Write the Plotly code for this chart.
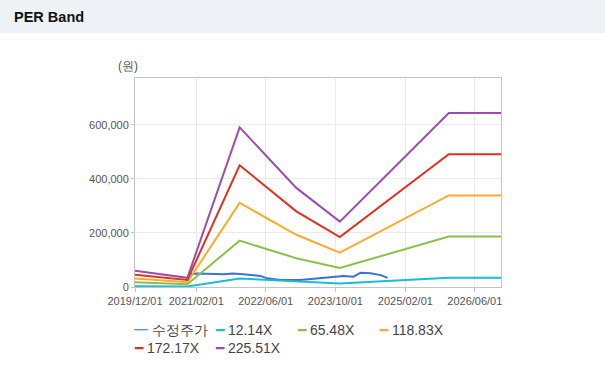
import plotly.graph_objects as go

# ---- data ----
band_dates = ["2019-12-01", "2020-06-01", "2020-12-01", "2021-12-01",
              "2023-01-01", "2023-11-01", "2025-12-01", "2026-12-01"]
per_12_14 = [3200, 2600, 1800, 31800, 19800, 13000, 34700, 34700]
per_65_48 = [17400, 13900, 9900, 171600, 106600, 70300, 187000, 187000]
per_118_83 = [31600, 25300, 17900, 311400, 193400, 127500, 339300, 339300]
per_172_17 = [45800, 36600, 26000, 451000, 280000, 184800, 491700, 491700]
per_225_51 = [60000, 48000, 34000, 591000, 367000, 242000, 644000, 644000]

price_dates = ["2020-12-15", "2021-02-08", "2021-08-08", "2021-10-17", "2021-12-26",
               "2022-04-24", "2022-06-12", "2022-09-11", "2023-01-29", "2023-05-29",
               "2023-09-18", "2023-11-27", "2024-02-05", "2024-03-25", "2024-06-03",
               "2024-08-12", "2024-09-30"]
price = [48000, 50000, 47000, 50000, 47000, 41000, 32000, 26000, 26000, 32000,
         38000, 41000, 38000, 53000, 51000, 44000, 34000]

series_names = ["수정주가", "12.14X", "65.48X", "118.83X", "172.17X", "225.51X"]
colors = ["#3a72d6", "#1bbdd4", "#8cc04a", "#fbab2e", "#e2301f", "#9b4ea9"]

x_ticks = ["2019-12-01", "2021-02-01", "2022-06-01", "2023-10-01", "2025-02-01", "2026-06-01"]
y_ticks = [0, 200000, 400000, 600000]

fig = go.Figure()
fig.add_trace(go.Scatter(x=price_dates, y=price, name=series_names[0], mode="lines",
                         line=dict(color=colors[0], width=2)))
for name, vals, col in zip(series_names[1:],
                           [per_12_14, per_65_48, per_118_83, per_172_17, per_225_51],
                           colors[1:]):
    fig.add_trace(go.Scatter(x=band_dates, y=vals, name=name, mode="lines",
                             line=dict(color=col, width=2)))

fig.update_layout(
    width=605, height=379,
    margin=dict(l=135, r=104, t=78, b=92),
    paper_bgcolor="white", plot_bgcolor="white",
    showlegend=False,
    font=dict(family="Liberation Sans, Arial, sans-serif", color="#555555", size=11),
)
fig.update_xaxes(
    type="date", range=["2019-12-01", "2026-12-01"],
    tickvals=x_ticks, tickformat="%Y/%m/%d",
    showgrid=True, gridcolor="#ebebeb", gridwidth=1,
    showline=True, linecolor="#c4c4c4", linewidth=1, mirror=True,
    ticks="outside", ticklen=4, tickcolor="#c4c4c4",
    tickfont=dict(size=11, color="#555555"), zeroline=False,
)
fig.update_yaxes(
    range=[0, 774000], tickvals=y_ticks, tickformat=",",
    showgrid=True, gridcolor="#ebebeb", gridwidth=1,
    showline=True, linecolor="#c4c4c4", linewidth=1, mirror=True,
    ticks="outside", ticklen=3, tickcolor="#c4c4c4",
    tickfont=dict(size=11, color="#555555"), zeroline=False,
)

# header band
fig.add_shape(type="rect", xref="paper", yref="paper",
              x0=-135/366, x1=(605-135)/366, y0=(379-92-33)/209, y1=(379-92)/209 + 0.5,
              fillcolor="#eef2f6", line=dict(width=0), layer="below")
fig.add_annotation(text="<b>PER Band</b>", xref="paper", yref="paper",
                   x=(12-135)/366, y=(287-17)/209, xanchor="left", yanchor="middle",
                   showarrow=False, font=dict(size=14.5, color="#111111",
                                              family="Liberation Sans, Arial, sans-serif"))
fig.add_annotation(text="(원)", xref="paper", yref="paper",
                   x=(128-135)/366, y=(287-66)/209, xanchor="center", yanchor="middle",
                   showarrow=False, font=dict(size=12, color="#555555"))

# custom legend
legend_pos = [(132, 330), (213, 330), (295, 330), (377, 330), (132, 348), (213, 348)]
for (lx, ly), name, col in zip(legend_pos, series_names, colors):
    fig.add_annotation(text=f"<span style='color:{col}'>━</span> {name}",
                       xref="paper", yref="paper",
                       x=(lx-135)/366, y=(287-ly)/209, xanchor="left", yanchor="middle",
                       showarrow=False, font=dict(size=14, color="#444444"))

fig.write_html("out.html", config={"displayModeBar": False},
               post_script="document.body.style.margin='0px';")
